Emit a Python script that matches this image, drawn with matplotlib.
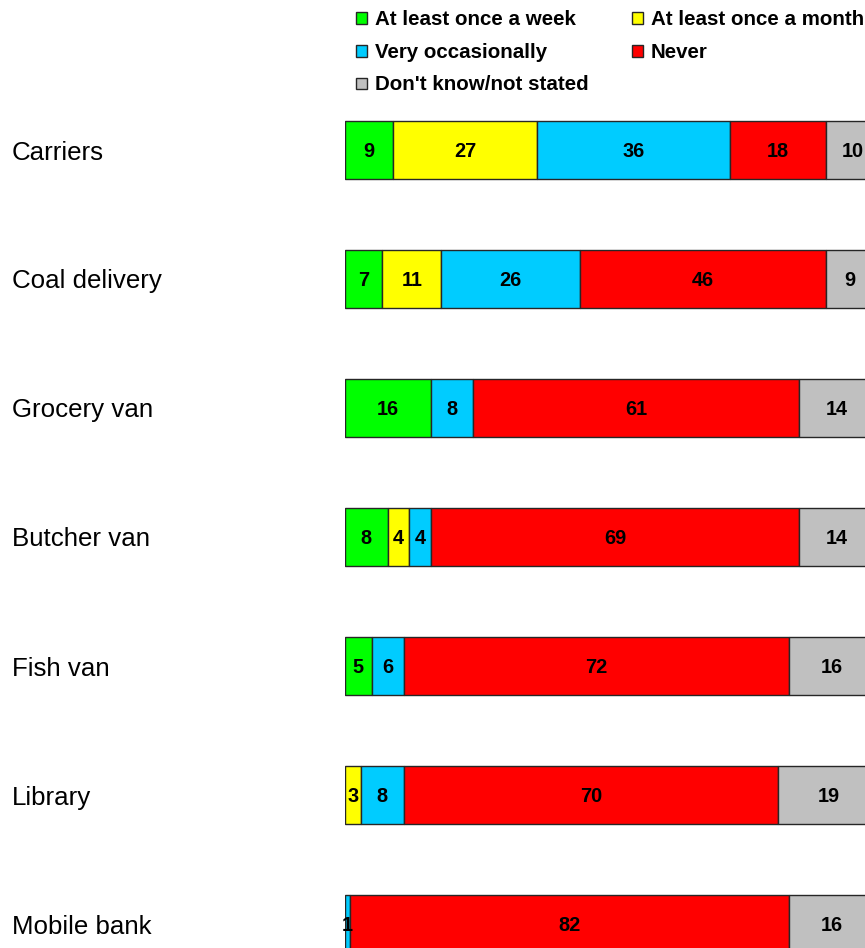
import matplotlib
matplotlib.use("Agg")
import matplotlib.pyplot as plt
from matplotlib.patches import Rectangle
import numpy as np

plt.rcParams['font.family'] = ['Liberation Sans', 'DejaVu Sans']

# data (percent)
places = ["Carriers", "Coal delivery", "Grocery van", "Butcher van",
          "Fish van", "Library", "Mobile bank"]
answers = ["At least once a week", "At least once a month",
           "Very occasionally", "Never", "Don't know/not stated"]
weekly = [9, 7, 16, 8, 5, 0, 0]
monthly = [27, 11, 0, 4, 0, 3, 0]
occasionally = [36, 26, 8, 4, 6, 8, 1]
never = [18, 46, 61, 69, 72, 70, 82]
dont_know = [10, 9, 14, 14, 16, 19, 16]
colors = ["#00ff00", "#ffff00", "#00ccff", "#ff0000", "#c0c0c0"]

W, H = 865, 948
fig = plt.figure(figsize=(W / 100, H / 100), dpi=100)


def fx(px):
    return px / W


def fy(py):
    return 1 - py / H


ax = fig.add_axes([fx(345), 0, (W - 345) / W, 1])
ax.set_xlim(0, (W - 345) / 5.345)
ax.set_ylim((H - 150) / 129, -150 / 129)
ax.axis('off')

series = [weekly, monthly, occasionally, never, dont_know]
y = np.arange(len(places))
left = np.zeros(len(places))
for vals, col in zip(series, colors):
    vals = np.array(vals, dtype=float)
    for i in range(len(places)):
        if vals[i] <= 0:
            continue
        ax.barh(y[i], vals[i], left=left[i], height=0.442, color=col,
                edgecolor="#262626", linewidth=1.0)
        ax.text(left[i] + vals[i] / 2, y[i] + 0.055, "%d" % vals[i],
                ha='center', va='baseline', fontsize=14.3,
                fontweight='bold', color='black')
    left += vals

# category labels
for i, name in enumerate(places):
    fig.text(fx(12), fy(150 + 129 * i + 9.5), name, fontsize=18.6,
             ha='left', va='baseline')

# legend, laid out row-wise like the original
for k, (lab, col) in enumerate(zip(answers, colors)):
    row, c = k // 2, k % 2
    mx = 356 + c * 276
    cy = [18, 51, 83.5][row]
    fig.patches.append(Rectangle((fx(mx), fy(cy + 5.5)), 11 / W, 11 / H,
                                 transform=fig.transFigure, facecolor=col,
                                 edgecolor="#262626", linewidth=1.0))
    fig.text(fx(mx + 19), fy(cy + 7), lab, fontsize=14.8, fontweight='bold',
             ha='left', va='baseline')

fig.savefig("out.png", dpi=100)
